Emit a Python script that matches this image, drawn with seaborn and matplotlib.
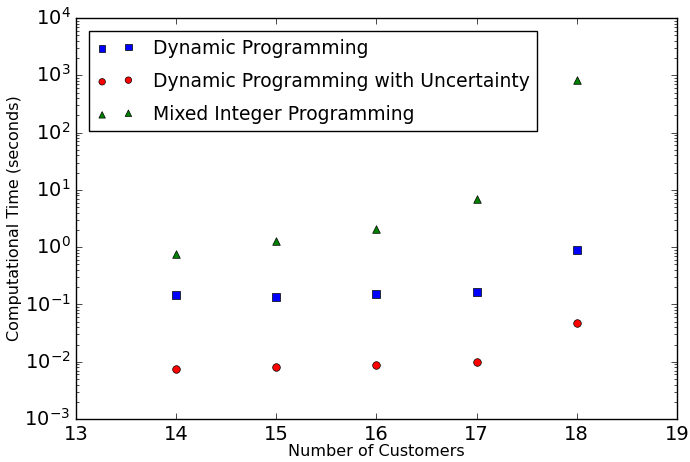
import matplotlib
matplotlib.use('Agg')
from matplotlib import pyplot as plt
import seaborn as sns
import pandas as pd

customers = [14, 15, 16, 17, 18]
dp_time = [0.146, 0.136, 0.155, 0.168, 0.91]
dpu_time = [0.0074, 0.0081, 0.0087, 0.0100, 0.048]
mip_time = [0.76, 1.26, 2.05, 7.0, 815]

series_names = ['Dynamic Programming',
                'Dynamic Programming with Uncertainty',
                'Mixed Integer Programming']

df = pd.DataFrame({
    'customers': customers * 3,
    'time': dp_time + dpu_time + mip_time,
    'method': [series_names[0]] * 5 + [series_names[1]] * 5 + [series_names[2]] * 5,
})

plt.style.use('classic')
fig = plt.figure(figsize=(6.9, 4.62), dpi=100)
ax = fig.add_axes([0.110, 0.093, 0.871, 0.868])

colors = ['blue', 'red', 'green']
markers = ['s', 'o', '^']
for name, c, m in zip(series_names, colors, markers):
    sns.scatterplot(data=df[df.method == name], x='customers', y='time', ax=ax,
                    color=c, marker=m, s=30, edgecolor='black', linewidth=0.5,
                    label=name)

ax.set_yscale('log')
ax.set_xlim(13, 19)
ax.set_ylim(1e-3, 1e4)
ax.set_xlabel('Number of Customers', fontsize=11.5, labelpad=0)
ax.set_ylabel('Computational Time (seconds)', fontsize=11.5, labelpad=2)
ax.tick_params(labelsize=14)
ax.legend(loc='upper left', scatterpoints=2, fontsize=13.5, frameon=True,
          labelspacing=0.75, markerscale=0.85, borderaxespad=0.7,
          handletextpad=1.0)

fig.savefig('out.png', dpi=100)
